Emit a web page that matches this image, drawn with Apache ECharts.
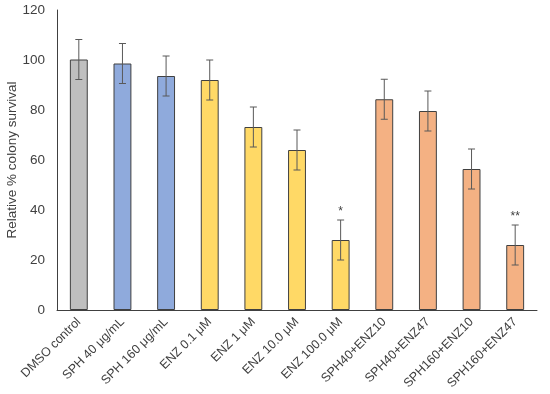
<!DOCTYPE html>
<html><head><meta charset="utf-8">
<script src="https://cdn.jsdelivr.net/npm/echarts@6/dist/echarts.min.js"></script>
<style>html,body{margin:0;padding:0;background:#fff}#c{width:550px;height:394px}</style>
</head><body><div id="c"></div>
<script>
var categories = ['DMSO control','SPH 40 μg/mL','SPH 160 μg/mL','ENZ 0.1 μM','ENZ 1 μM','ENZ 10.0 μM','ENZ 100.0 μM','SPH40+ENZ10','SPH40+ENZ47','SPH160+ENZ10','SPH160+ENZ47'];
var values = [100.2, 98.6, 93.6, 92, 73.2, 64, 28, 84.3, 79.6, 56.4, 26];
var errors = [8, 8, 8, 8, 8, 8, 8, 8, 8, 8, 8];
var marks = ['', '', '', '', '', '', '*', '', '', '', '**'];
var groups = [0, 1, 1, 2, 2, 2, 2, 3, 3, 3, 3];
var groupColors = ['#BFBFBF', '#8FAADC', '#FFD966', '#F4B183'];
var yTicks = [0, 20, 40, 60, 80, 100, 120];

var chart = echarts.init(document.getElementById('c'), null, {renderer: 'canvas'});
var font = 'Liberation Sans, Arial, sans-serif';
chart.setOption({
  animation: false,
  grid: {left: 57, right: 13, top: 10, bottom: 84, containLabel: false, outerBoundsMode: 'none'},
  xAxis: {
    type: 'category', data: categories,
    axisLine: {lineStyle: {color: '#404040', width: 1}},
    axisTick: {show: false},
    axisLabel: {rotate: 45, interval: 0, fontFamily: font, fontSize: 12.5, color: '#404040', margin: 10}
  },
  yAxis: {
    type: 'value', min: yTicks[0], max: yTicks[yTicks.length - 1], interval: 20,
    name: 'Relative % colony survival', nameLocation: 'middle', nameGap: 38, nameMoveOverlap: false,
    nameTextStyle: {fontFamily: font, fontSize: 13.5, color: '#404040'},
    axisLine: {show: true, lineStyle: {color: '#404040', width: 1}},
    axisTick: {show: false},
    splitLine: {show: false},
    axisLabel: {fontFamily: font, fontSize: 13.5, color: '#404040', margin: 12}
  },
  series: [{
    type: 'bar',
    barWidth: '41%',
    data: values.map(function (v, i) {
      return {value: v, itemStyle: {color: groupColors[groups[i]], borderColor: '#404040', borderWidth: 1}};
    })
  }, {
    type: 'custom',
    data: values.map(function (v, i) { return [i, v, errors[i], marks[i]]; }),
    renderItem: function (params, api) {
      var i = api.value(0), v = api.value(1), e = api.value(2);
      var top = api.coord([i, v + e]);
      var bot = api.coord([i, v - e]);
      var cap = 3.5;
      var st = {stroke: '#595959', lineWidth: 1};
      var children = [
        {type: 'line', shape: {x1: top[0], y1: top[1], x2: bot[0], y2: bot[1]}, style: st},
        {type: 'line', shape: {x1: top[0] - cap, y1: top[1], x2: top[0] + cap, y2: top[1]}, style: st},
        {type: 'line', shape: {x1: bot[0] - cap, y1: bot[1], x2: bot[0] + cap, y2: bot[1]}, style: st}
      ];
      var m = marks[i];
      if (m) {
        children.push({type: 'text', style: {text: m, x: top[0], y: top[1] - 2, textAlign: 'center', textVerticalAlign: 'bottom', fill: '#404040', font: '12px ' + font}});
      }
      return {type: 'group', children: children};
    },
    z: 10
  }]
});
</script></body></html>
